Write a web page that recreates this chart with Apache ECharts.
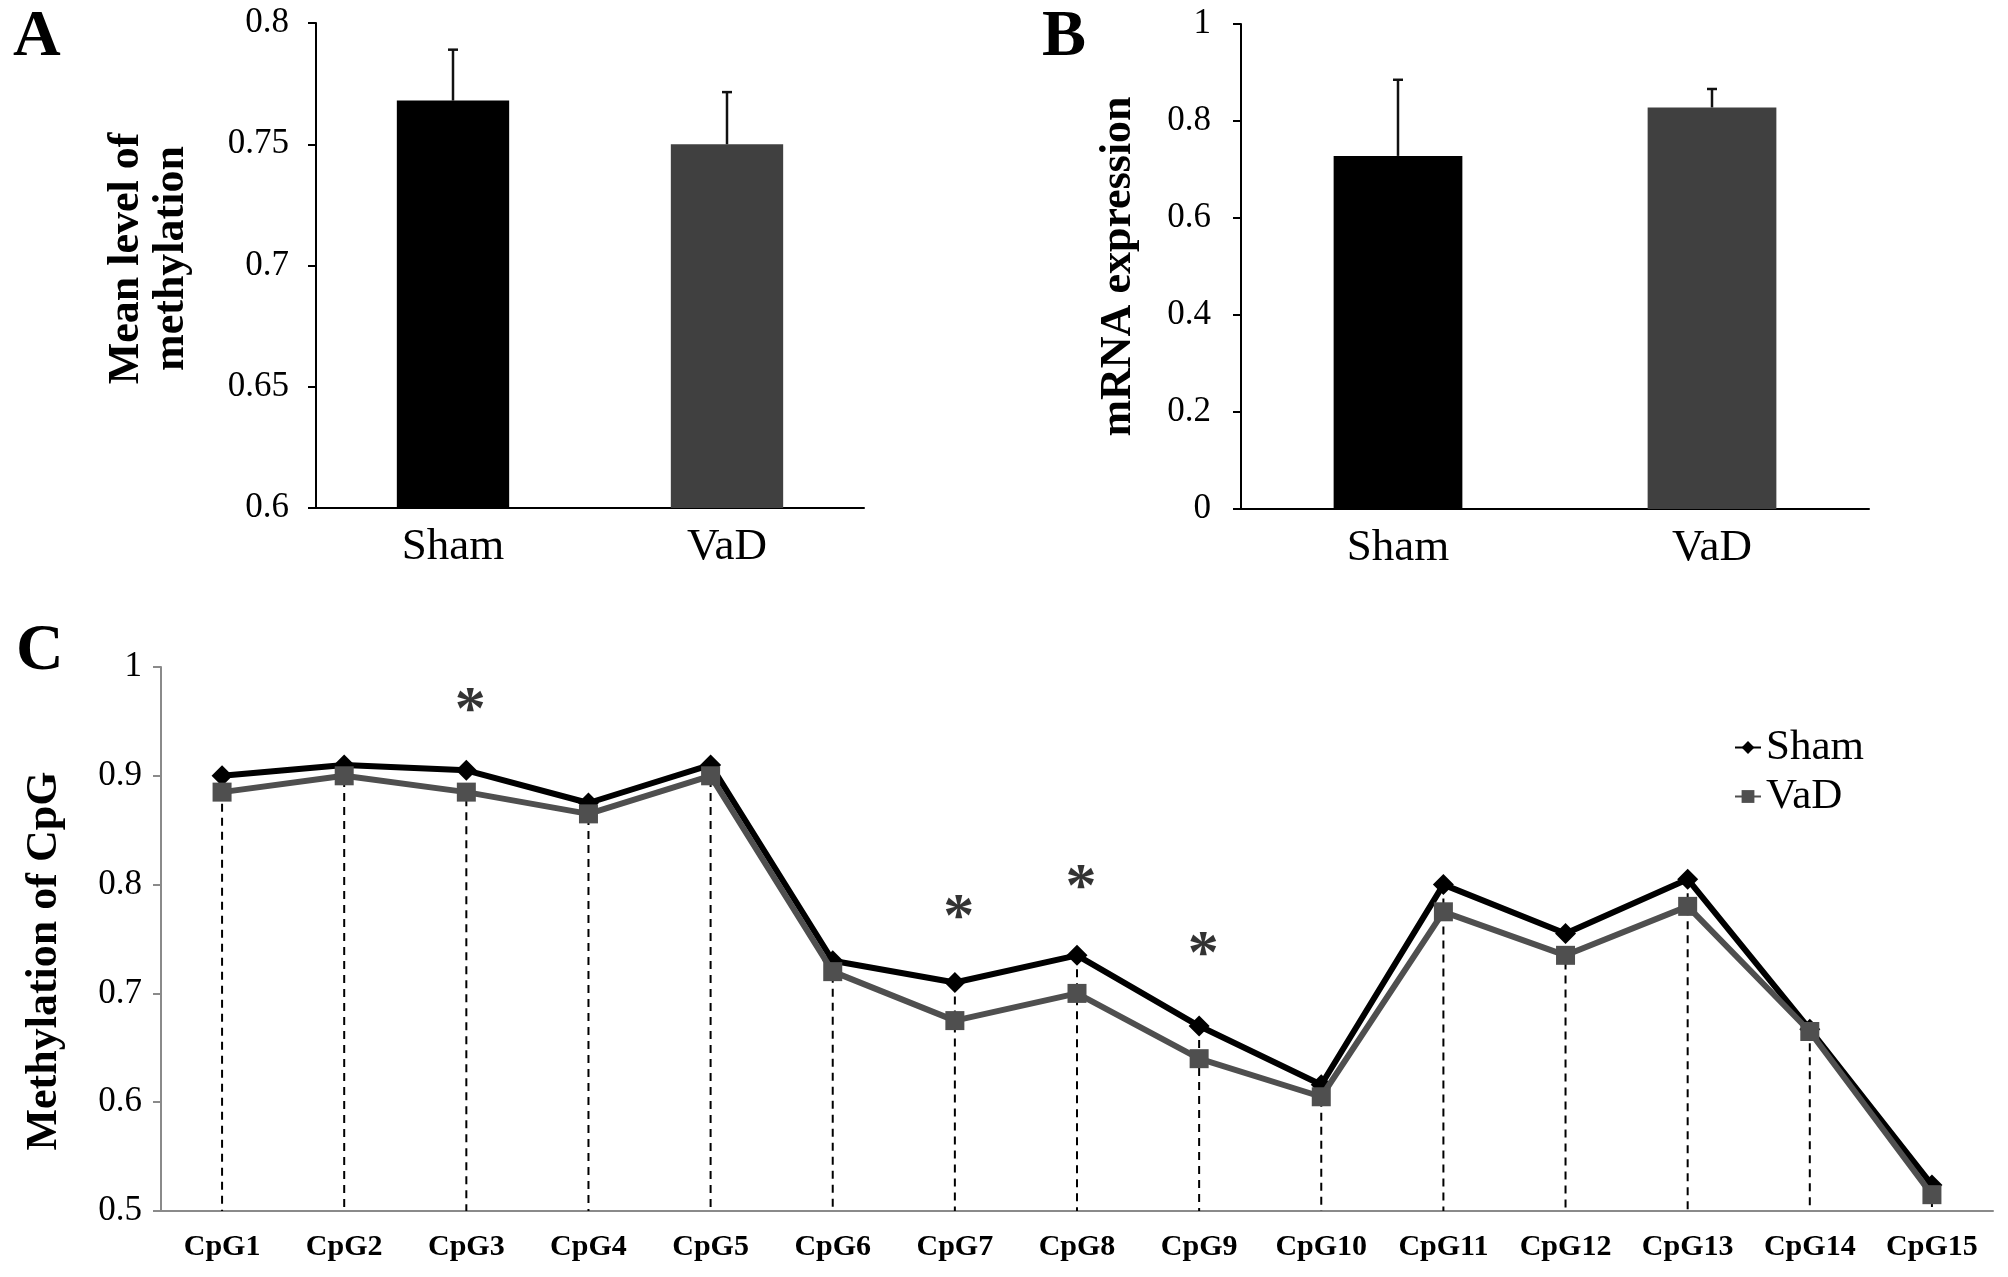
<!DOCTYPE html>
<html>
<head>
<meta charset="utf-8">
<script src="https://cdn.jsdelivr.net/npm/echarts@6/dist/echarts.min.js"></script>
<style>
  html, body { margin: 0; padding: 0; background: #fff; }
  #main { width: 2008px; height: 1277px; }
</style>
</head>
<body>
<div id="main"></div>
<script>
// panel A: mean methylation level
var groups = ['Sham', 'VaD'];
var methMean = [0.768, 0.75];
var methErr = [0.021, 0.0215];

// panel B: mRNA expression
var mrnaMean = [0.728, 0.828];
var mrnaErr = [0.157, 0.038];

// panel C: methylation per CpG site
var cpgSites = ['CpG1', 'CpG2', 'CpG3', 'CpG4', 'CpG5', 'CpG6', 'CpG7', 'CpG8',
  'CpG9', 'CpG10', 'CpG11', 'CpG12', 'CpG13', 'CpG14', 'CpG15'];
var shamCpg = [0.9, 0.91, 0.905, 0.875, 0.91, 0.73, 0.71, 0.735, 0.67, 0.616,
  0.8, 0.755, 0.805, 0.667, 0.524];
var vadCpg = [0.885, 0.9, 0.885, 0.865, 0.9, 0.72, 0.675, 0.7, 0.64, 0.605,
  0.775, 0.735, 0.78, 0.665, 0.515];

// significance marks (site index, height)
var starSite = [2, 6, 7, 8];
var starLevel = [0.97, 0.779, 0.807, 0.7455];

var barColors = ['#000000', '#404040'];
var cMin = 0.5;
var serif = 'Liberation Serif';

var chart = echarts.init(document.getElementById('main'));

function barItems(vals) {
  return vals.map(function (v, i) {
    return { value: v, itemStyle: { color: barColors[i] } };
  });
}

function errItems(vals, errs) {
  return vals.map(function (v, i) { return [i, v, errs[i]]; });
}

function renderErr(params, api) {
  var i = api.value(0);
  var m = api.value(1);
  var p0 = api.coord([i, m]);
  var p1 = api.coord([i, m + api.value(2)]);
  var st = { stroke: '#111', lineWidth: 2.5 };
  return {
    type: 'group',
    children: [
      { type: 'line', shape: { x1: p0[0], y1: p0[1], x2: p1[0], y2: p1[1] }, style: st },
      { type: 'line', shape: { x1: p1[0] - 5, y1: p1[1], x2: p1[0] + 5, y2: p1[1] }, style: st }
    ]
  };
}

function renderDrop(params, api) {
  var i = api.value(0);
  var p0 = api.coord([i, api.value(1)]);
  var p1 = api.coord([i, cMin]);
  return {
    type: 'line',
    shape: { x1: p0[0], y1: p0[1], x2: p1[0], y2: p1[1] },
    style: { stroke: '#000', lineWidth: 2, lineDash: [8, 6] }
  };
}

var letterStyle = { fontFamily: serif, fontWeight: 'bold', fontSize: 66, color: '#000' };

var valueAxisBase = {
  type: 'value',
  splitLine: { show: false },
  axisLine: { show: true, lineStyle: { color: '#000', width: 2 } },
  axisTick: { show: true, length: 8, lineStyle: { color: '#000', width: 2 } },
  axisLabel: { fontFamily: serif, fontSize: 35, color: '#000' },
  nameLocation: 'middle',
  nameTextStyle: { fontFamily: serif, fontWeight: 'bold', fontSize: 44, color: '#000', lineHeight: 45 }
};

function merge(a, b) {
  var o = {};
  for (var k in a) o[k] = a[k];
  for (var k2 in b) o[k2] = b[k2];
  return o;
}

var option = {
  backgroundColor: '#fff',
  animation: false,
  title: [
    { text: 'A', left: 8, top: 0, textStyle: letterStyle },
    { text: 'B', left: 1037, top: 0, textStyle: letterStyle },
    { text: 'C', left: 11, top: 614, textStyle: letterStyle }
  ],
  legend: {
    data: ['Sham', 'VaD'],
    orient: 'vertical',
    left: 1729,
    top: 721,
    itemWidth: 26,
    itemHeight: 16,
    itemGap: 6,
    textStyle: { fontFamily: serif, fontSize: 43, color: '#000' }
  },
  grid: [
    { left: 316, top: 23, width: 548, height: 485 },
    { left: 1241, top: 24, width: 628, height: 485 },
    { left: 161, top: 667, width: 1832, height: 544 }
  ],
  xAxis: [
    {
      type: 'category', gridIndex: 0, data: groups,
      axisLine: { lineStyle: { color: '#000', width: 2 } },
      axisTick: { show: false },
      axisLabel: { fontFamily: serif, fontSize: 45, color: '#000', margin: 17 }
    },
    {
      type: 'category', gridIndex: 1, data: groups,
      axisLine: { lineStyle: { color: '#000', width: 2 } },
      axisTick: { show: false },
      axisLabel: { fontFamily: serif, fontSize: 45, color: '#000', margin: 17 }
    },
    {
      type: 'category', gridIndex: 2, data: cpgSites,
      axisLine: { lineStyle: { color: '#8a8a8a', width: 2 } },
      axisTick: { show: false },
      axisLabel: {
        interval: 0, hideOverlap: false,
        fontFamily: serif, fontWeight: 'bold', fontSize: 30, color: '#000', margin: 21
      }
    }
  ],
  yAxis: [
    merge(valueAxisBase, {
      gridIndex: 0, min: 0.6, max: 0.8, interval: 0.05,
      name: 'Mean level of\nmethylation', nameGap: 122,
      axisLabel: { fontFamily: serif, fontSize: 35, color: '#000', margin: 27 },
      nameTextStyle: { fontFamily: serif, fontWeight: 'bold', fontSize: 44, color: '#000', lineHeight: 45, padding: [0, 0, 0, 14] }
    }),
    merge(valueAxisBase, {
      gridIndex: 1, min: 0, max: 1, interval: 0.2,
      name: 'mRNA expression', nameGap: 100,
      axisLabel: { fontFamily: serif, fontSize: 35, color: '#000', margin: 30 }
    }),
    merge(valueAxisBase, {
      gridIndex: 2, min: cMin, max: 1, interval: 0.1,
      name: 'Methylation of CpG', nameGap: 94,
      axisLine: { show: true, lineStyle: { color: '#8a8a8a', width: 2 } },
      axisTick: { show: true, length: 8, lineStyle: { color: '#8a8a8a', width: 2 } },
      axisLabel: { fontFamily: serif, fontSize: 35, color: '#000', margin: 19 },
      nameTextStyle: { fontFamily: serif, fontWeight: 'bold', fontSize: 44, color: '#000', padding: [0, 44, 0, 0] }
    })
  ],
  series: [
    {
      name: 'Mean level of methylation', type: 'bar', xAxisIndex: 0, yAxisIndex: 0,
      barWidth: '41%', data: barItems(methMean)
    },
    {
      type: 'custom', xAxisIndex: 0, yAxisIndex: 0, z: 3,
      renderItem: renderErr, data: errItems(methMean, methErr)
    },
    {
      name: 'mRNA expression', type: 'bar', xAxisIndex: 1, yAxisIndex: 1,
      barWidth: '41%', data: barItems(mrnaMean)
    },
    {
      type: 'custom', xAxisIndex: 1, yAxisIndex: 1, z: 3,
      renderItem: renderErr, data: errItems(mrnaMean, mrnaErr)
    },
    {
      type: 'custom', xAxisIndex: 2, yAxisIndex: 2, z: 1,
      renderItem: renderDrop,
      data: shamCpg.map(function (v, i) { return [i, Math.max(v, vadCpg[i])]; })
    },
    {
      name: 'Sham', type: 'line', xAxisIndex: 2, yAxisIndex: 2, z: 3,
      data: shamCpg,
      symbol: 'diamond', symbolSize: 21, showAllSymbol: true,
      lineStyle: { color: '#000', width: 6 },
      itemStyle: { color: '#000' }
    },
    {
      name: 'VaD', type: 'line', xAxisIndex: 2, yAxisIndex: 2, z: 4,
      data: vadCpg,
      symbol: 'rect', symbolSize: 19, showAllSymbol: true,
      lineStyle: { color: '#4f4f4f', width: 6 },
      itemStyle: { color: '#4f4f4f' }
    },
    {
      type: 'scatter', xAxisIndex: 2, yAxisIndex: 2, z: 5,
      symbol: 'circle', symbolSize: 1,
      itemStyle: { color: 'rgba(0,0,0,0)' },
      label: {
        show: true, position: 'inside', formatter: '*', offset: [4, 12],
        fontFamily: serif, fontWeight: 'bold', fontSize: 62, color: '#000'
      },
      data: starSite.map(function (s, i) { return [s, starLevel[i]]; })
    }
  ]
};

chart.setOption(option);
</script>
</body>
</html>
